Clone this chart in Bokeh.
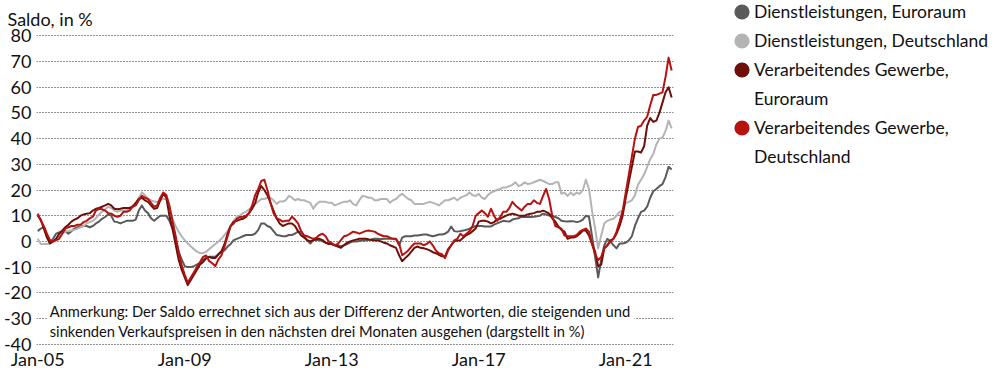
from bokeh.plotting import figure
from bokeh.layouts import row
from bokeh.models import FixedTicker, Label, Legend, LegendItem, Range1d
from bokeh.embed import file_html
from bokeh.resources import INLINE

# ---------------- data ----------------
tick_positions = [0, 48, 96, 144, 192]
tick_labels = ["Jan-05", "Jan-09", "Jan-13", "Jan-17", "Jan-21"]
y_ticks = [-40, -30, -20, -10, 0, 10, 20, 30, 40, 50, 60, 70, 80]

series_names = [
    "Dienstleistungen, Euroraum",
    "Dienstleistungen, Deutschland",
    "Verarbeitendes Gewerbe,\nEuroraum",
    "Verarbeitendes Gewerbe,\nDeutschland",
]

# monthly, Jan 2005 .. Apr 2022
dienst_euroraum = [
    4, 5, 5.5, 2, -0.5, 1, 3, 3.5, 4, 4, 3, 4,
    5, 5.5, 5.8, 6, 6, 5.5, 6, 7, 7.7, 8.8, 9.5, 10.5,
    10, 7.7, 7.5, 7, 7.5, 8, 8, 8, 8.5, 12, 14, 12,
    11, 9, 8, 9, 10, 10, 10, 8, 5, 1, -4, -7,
    -9.6, -10, -10, -9.6, -9, -8.5, -7, -6.5, -6, -6, -6, -5,
    -4, -3.5, -2, -1, 0.5, 1, 1.5, 2, 2.5, 2.5, 2.5, 3,
    4.5, 7, 7, 6, 5.5, 4, 2.5, 2.3, 2, 2, 2.5, 2.5,
    3, 3.8, 3.8, 2, 0.4, -0.8, 0.5, 0.5, 0.5, 0, -0.5, -0.8,
    -1, -1.5, -1.5, -2, -1.5, -1, -0.5, 0, 0, 0.2, 0.4, 0.4,
    0.5, 0.8, 1, 1, 0.8, 1, 1, 1, 1, 0.8, -1.5, 1.5,
    2, 2, 2, 2.3, 2.3, 2.5, 2.7, 2.7, 2.3, 2, 2.3, 2.7,
    2.7, 3, 3.8, 5.8, 4, 3.8, 4, 4.2, 4.5, 5, 5.5, 6,
    6, 6, 5.8, 5.8, 5.8, 6.5, 7, 7.5, 8, 7.8, 7.7, 8.5,
    8.8, 9, 9.6, 9.5, 9.5, 9.5, 9.6, 9.8, 10, 10.8, 10.5, 10,
    10, 9.5, 9, 8, 7.8, 7.7, 7.8, 7.8, 7.5, 7.8, 8.5, 10,
    9.6, 2, -6, -14, -7, -1.5, 1, 0, -1.5, -2.7, -0.8, -0.8,
    -0.5, 0.4, 2, 6, 9, 11.5, 12, 13.5, 17, 19.5, 20.4, 21.5,
    22.3, 25, 29, 28,
]

dienst_deutschland = [
    1, -1, -1, -1, -0.8, 0, 0.4, 2, 3, 3.8, 4, 4.2,
    4.5, 5, 5.5, 6, 7, 7.5, 8, 9, 10.5, 11.5, 12.5, 13.5,
    13, 12, 11.5, 12, 12, 12, 13, 14, 14.6, 17, 19, 18,
    16.5, 16, 15.5, 15.4, 16, 16.5, 16.5, 12.7, 8.8, 6, 3.8, 2,
    0.5, -0.8, -2, -3, -4, -4.5, -4.6, -4, -3, -2, -1, 0,
    1, 2.5, 4, 6, 8, 9.6, 10, 11, 11.5, 12.5, 13, 14.5,
    15.5, 16.5, 16.5, 17, 17, 16, 14.6, 15.5, 15.5, 16, 17.7, 17,
    16, 16.5, 16, 16, 15.5, 15, 12.7, 14.5, 15.4, 15.4, 15.4, 15,
    15, 14, 14.5, 15, 15.4, 15.4, 16, 14.5, 14, 16, 17.7, 17.5,
    17, 17, 16, 16, 16.5, 16.5, 16.5, 15, 16, 16.5, 17.7, 18.5,
    17.5, 16.5, 16, 14.6, 14.6, 14.6, 14.6, 15, 15.4, 15, 14.6, 14,
    15, 16, 16, 16.5, 17, 16, 17, 17.5, 18, 19, 18, 17.7,
    18.5, 17, 16.5, 18, 19, 19.5, 20, 20.4, 21, 21, 21.5, 22,
    23, 21.5, 22, 23, 22.3, 22.5, 23, 23.5, 24, 23.5, 23, 22.3,
    22.3, 23, 23, 18.5, 19, 17.7, 19, 18, 19, 18.5, 20, 24,
    20.4, 12, 5, -2.7, 2.3, 7, 8, 8.5, 8.8, 10, 11.5, 12,
    15, 15.4, 16, 18, 22, 24, 26, 29, 32, 34, 37.7, 40,
    40.4, 43, 47, 44,
]

verarb_euroraum = [
    10, 8.5, 5, 1.5, -0.8, 0, 1, 3, 4.2, 5.5, 6.5, 7.7,
    8.5, 9, 10, 10.5, 10.8, 11, 12, 12.7, 13, 13.5, 14, 14.6,
    14, 12.7, 12.5, 12.7, 13, 13, 13, 13.5, 15, 16.5, 17, 16,
    15.4, 14, 12.7, 13, 16, 18.5, 17, 10, 5, -1, -7, -11,
    -14, -17, -15, -13, -11, -9, -8, -6.5, -6, -6.5, -6.5, -5,
    -3.8, -1, 3, 6, 7.7, 8, 8.5, 8.8, 9.5, 11, 12.7, 15,
    19, 21.5, 20, 18, 15, 12, 9, 7, 6, 6.5, 7, 7,
    6, 4, 2.3, 1.5, 0.5, 0, 0.5, 1, 1, 0.5, -0.5, -1,
    -1, -1.5, -2, -2.5, -1.5, -0.5, 0, 0.4, 0.7, 1, 1, 1,
    0.8, 0.5, 0.4, 0.4, 0, -0.5, -0.8, -1.5, -2, -2.5, -5.4, -7.7,
    -6.5, -5.4, -4, -2.5, -2, -2.5, -2.7, -3, -3.5, -4.2, -4.6, -5.2,
    -5.8, -5.8, -3, -1.5, 0, 0.4, 0.4, 1.5, 2.5, 3, 4, 5,
    7.7, 8, 8, 7.7, 7, 7.5, 8.5, 8.8, 9.5, 10, 10.5, 10.8,
    10.5, 10, 10, 10, 10.5, 10.8, 11, 11.5, 11.5, 12, 11.5, 10.8,
    9, 7.7, 5.8, 4.5, 3.8, 1, 1.5, 1.5, 2, 3, 4.2, 4.2,
    2.3, -1, -4, -9.6, -9, -2.7, -1.5, 0.4, 1, 3, 6, 10,
    17, 23, 29, 35, 35, 34.6, 37, 45, 48, 46.5, 47, 50,
    54, 58, 60, 56,
]

verarb_deutschland = [
    10.8, 8, 6, 3, 0.5, 0, 0.5, 1, 3, 5, 5.5, 6,
    6, 6.5, 6.5, 7.5, 8, 9, 9.6, 12, 12.7, 12.5, 12, 11,
    10.8, 10, 9.6, 10, 11.5, 11.5, 12, 13.5, 14, 16, 17.7, 17,
    16.5, 15, 13.5, 14, 17, 19, 18, 14, 8, 2.3, -4, -9.2,
    -13, -16, -14, -12, -10, -8, -6, -5.5, -7.7, -8.5, -9.6, -7,
    -5.4, -2, 2, 6, 7, 8.8, 9.5, 9.6, 10, 11, 14, 18,
    20.4, 23.5, 24, 20, 15, 11, 9, 8.5, 7.7, 8, 8, 9.6,
    8.5, 7, 4, 2.3, 2, 1.5, 1, 1.5, 2.5, 3, 2, 0,
    -0.7, -1.5, -1, 0.5, 2, 2.3, 3, 3.8, 3.5, 3, 3.5, 4,
    4.2, 4, 3.8, 3, 2.5, 2, 2, 1.5, 1, 1, -0.8, -5.4,
    -4.5, -3.5, -2, -0.8, -0.8, -0.8, -1.5, -1, 0, -1.5, -3.5, -4.6,
    -5, -6.5, -3.5, -1.5, 0.4, 1, 3, 2, 3, 4, 6, 10,
    11, 12, 11, 9.6, 12.7, 10, 8, 9.5, 11.5, 11.5, 13, 15.4,
    14, 13, 12, 13.5, 14.6, 14.6, 16, 15, 14.6, 17.7, 20.4, 16.5,
    10, 6, 5.5, 5, 2.3, 2, 2, 2, 2.5, 3.8, 4.5, 5,
    3.8, -1, -5, -7.3, -6, -2.7, -1.5, 0, 1, 3.8, 7.7, 12,
    19, 26, 33, 40, 44.5, 45, 47, 48.5, 53, 57, 57, 57.5,
    58, 64, 71.5, 66.5,
]

months = list(range(len(dienst_euroraum)))

series = [dienst_euroraum, dienst_deutschland, verarb_euroraum, verarb_deutschland]
colors = ["#5a5a5a", "#b4b4b4", "#6e0f0a", "#b51210"]

FONT = "Lato"
TXT = "#111111"
H = 372

p = figure(
    width=722, height=H,
    output_backend="svg", toolbar_location=None,
    x_range=Range1d(-0.4, 207.6), y_range=Range1d(-40.5, 80.5),
    min_border_left=26, min_border_right=49,
    min_border_top=30, min_border_bottom=24,
    title="Saldo, in %",
)
p.frame_align = False
p.outline_line_color = None
p.background_fill_color = "white"
p.border_fill_color = "white"

p.title.text_font = FONT
p.title.text_font_size = "18px"
p.title.text_font_style = "normal"
p.title.text_color = TXT
p.title.align = "left"
p.title.offset = -29
p.title.standoff = 10

for vals, col in zip(series, colors):
    p.line(months, vals, line_color=col, line_width=2, line_join="round")

# axes
p.yaxis.ticker = FixedTicker(ticks=y_ticks)
p.yaxis.major_label_overrides = {t: str(t) for t in y_ticks}
p.yaxis.axis_line_color = None
p.yaxis.major_tick_line_color = None
p.yaxis.minor_tick_line_color = None
p.yaxis.major_tick_out = 0
p.yaxis.minor_tick_out = 0
p.yaxis.major_label_text_font = FONT
p.yaxis.major_label_text_font_size = "18px"
p.yaxis.major_label_text_color = TXT
p.yaxis.major_label_standoff = 5

p.xaxis.ticker = FixedTicker(ticks=tick_positions)
p.xaxis.major_label_overrides = {t: l for t, l in zip(tick_positions, tick_labels)}
p.xaxis.axis_line_color = None
p.xaxis.major_tick_line_color = None
p.xaxis.minor_tick_line_color = None
p.xaxis.major_tick_out = 0
p.xaxis.minor_tick_out = 0
p.xaxis.major_label_text_font = FONT
p.xaxis.major_label_text_font_size = "18px"
p.xaxis.major_label_text_color = TXT
p.xaxis.major_label_standoff = 2

p.xgrid.grid_line_color = None
p.ygrid.ticker = FixedTicker(ticks=y_ticks)
p.ygrid.grid_line_color = "#222222"
p.ygrid.grid_line_dash = "1 2"
p.ygrid.grid_line_width = 1.2

# note
p.add_layout(Label(
    x=2.95, y=-22.3, x_units="data", y_units="data",
    text=("Anmerkung: Der Saldo errechnet sich aus der Differenz der Antworten, die steigenden und\n"
          "sinkenden Verkaufspreisen in den nächsten drei Monaten ausgehen (dargstellt in %)"),
    text_font=FONT, text_font_size="14.7px", text_color=TXT,
    text_baseline="top", text_align="left", text_line_height=1.15,
    background_fill_color="white", padding=3,
))

# legend figure
lg = figure(
    width=266, height=H, output_backend="svg", toolbar_location=None,
    x_axis_type=None, y_axis_type=None, x_range=Range1d(0, 1), y_range=Range1d(0, 1),
    min_border=0,
)
lg.frame_align = False
lg.outline_line_color = None
lg.grid.visible = False

nan = float("nan")
items = []
for name, col in zip(series_names, colors):
    parts = name.split("\n")
    r = lg.ellipse(x=[nan], y=[nan], width=15, height=15,
                   width_units="screen", height_units="screen",
                   fill_color=col, line_color=None)
    items.append(LegendItem(label=parts[0], renderers=[r]))
    for extra in parts[1:]:
        r2 = lg.ellipse(x=[nan], y=[nan], width=15, height=15,
                        width_units="screen", height_units="screen",
                        fill_alpha=0, line_color=None)
        items.append(LegendItem(label=extra, renderers=[r2]))

legend = Legend(
    items=items, location=(10, 205),
    label_text_font=FONT, label_text_font_size="17.5px", label_text_color=TXT,
    glyph_width=19, glyph_height=19, label_height=21, label_standoff=3,
    spacing=8, padding=0, margin=0,
    border_line_color=None, background_fill_alpha=0,
)
lg.add_layout(legend)

layout = row(p, lg)
open("out.html", "w").write(file_html(layout, INLINE))
